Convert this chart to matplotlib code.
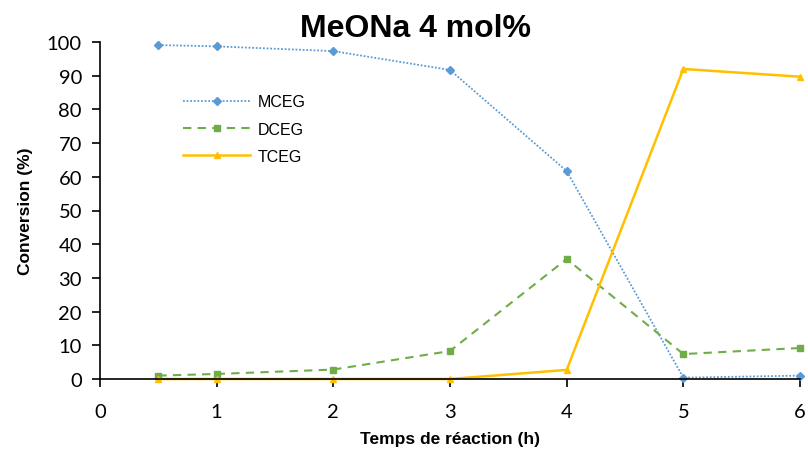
import matplotlib
matplotlib.use("Agg")
import matplotlib.pyplot as plt

time_h = [0.5, 1, 2, 3, 4, 5, 6]
mceg = [99.1, 98.7, 97.3, 91.7, 61.7, 0.4, 1.0]
dceg = [1.0, 1.5, 2.8, 8.3, 35.6, 7.4, 9.2]
tceg = [0.0, 0.0, 0.0, 0.0, 2.7, 92.0, 89.7]
x_ticks = [0, 1, 2, 3, 4, 5, 6]
y_ticks = [0, 10, 20, 30, 40, 50, 60, 70, 80, 90, 100]

fig = plt.figure(figsize=(8.08, 4.56), dpi=100)
ax = fig.add_axes([100/808, 76/456, 700/808, 337/456])

ax.plot(time_h, mceg, color="#5B9BD5", linestyle=(0, (1, 1)), linewidth=1.3,
        marker="D", markersize=4, label="MCEG")
ax.plot(time_h, dceg, color="#70AD47", linestyle=(0, (4, 3)), linewidth=1.5,
        marker="s", markersize=5, label="DCEG")
ax.plot(time_h, tceg, color="#FFC000", linestyle="-", linewidth=1.8,
        marker="^", markersize=5, label="TCEG")

ax.set_xlim(0, 6)
ax.set_ylim(0, 100)
ax.set_xticks(x_ticks)
ax.set_yticks(y_ticks)
for s in ["top", "right"]:
    ax.spines[s].set_visible(False)
for s in ["left", "bottom"]:
    ax.spines[s].set_linewidth(1.2)
    ax.spines[s].set_color("black")
ax.tick_params(direction="out", length=6, width=1.2, labelsize=14.5)
ax.tick_params(axis="x", pad=11)
ax.tick_params(axis="y", pad=7)
for lab in ax.get_xticklabels() + ax.get_yticklabels():
    lab.set_fontfamily("Lato")

ax.set_xlabel("Temps de réaction (h)", fontsize=12.5, fontweight="bold",
              fontfamily="Liberation Sans", labelpad=8)
ax.set_ylabel("Conversion (%)", fontsize=12.5, fontweight="bold",
              fontfamily="Liberation Sans", labelpad=10)
fig.text(415/808, 1 - 29/456, "MeONa 4 mol%", ha="center", va="center",
         fontsize=23, fontweight="bold", fontfamily="Liberation Sans")

leg = ax.legend(loc="upper left", bbox_to_anchor=(0.098, 0.888), frameon=False,
                prop={"family": "Liberation Sans", "size": 11.5},
                handlelength=4.2, handletextpad=0.5, labelspacing=0.78)
for line in ax.get_lines():
    line.set_clip_on(False)

fig.savefig("out.png", dpi=100)
